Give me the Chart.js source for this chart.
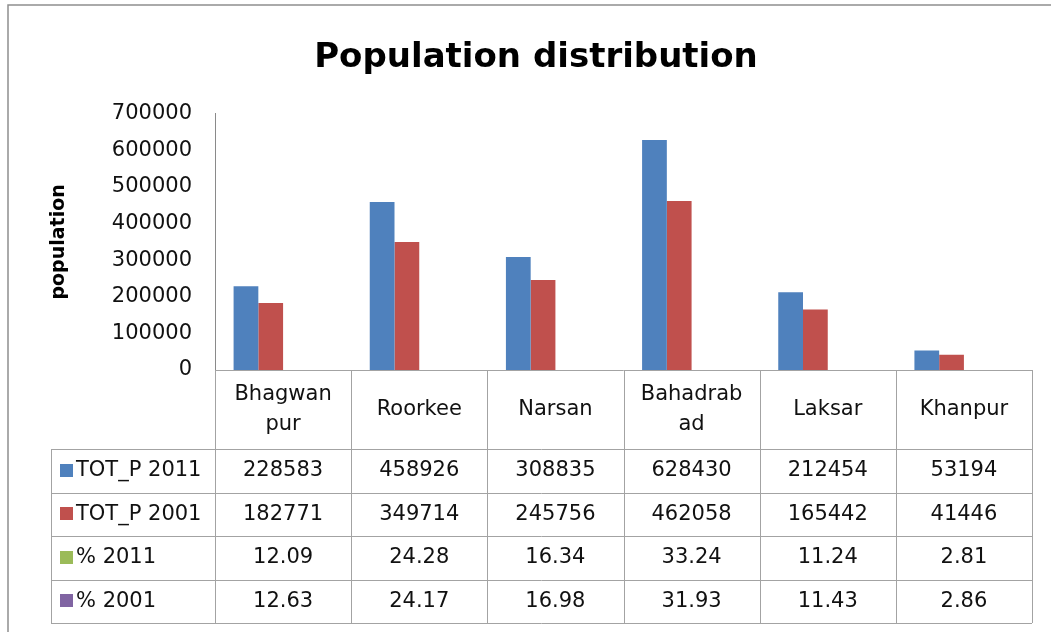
<!DOCTYPE html>
<html>
<head>
<meta charset="utf-8">
<script src="https://cdn.jsdelivr.net/npm/chart.js@4.4.1/dist/chart.umd.min.js"></script>
<style>
body { margin: 0; background: #fff; }
canvas { display: block; }
</style>
</head>
<body>
<canvas id="chart" width="1051" height="632"></canvas>
<script>
// header labels wrap like the original table cells
const categories = [['Bhagwan', 'pur'], ['Roorkee'], ['Narsan'], ['Bahadrab', 'ad'], ['Laksar'], ['Khanpur']];
const seriesNames = ['TOT_P 2011', 'TOT_P 2001', '% 2011', '% 2001'];
const tot2011 = [228583, 458926, 308835, 628430, 212454, 53194];
const tot2001 = [182771, 349714, 245756, 462058, 165442, 41446];
const pct2011 = [12.09, 24.28, 16.34, 33.24, 11.24, 2.81];
const pct2001 = [12.63, 24.17, 16.98, 31.93, 11.43, 2.86];
const yTicks = [0, 100000, 200000, 300000, 400000, 500000, 600000, 700000];
const colors = ['#4f81bd', '#c0504d', '#9bbb59', '#8064a2'];

const FONT = '"DejaVu Sans", sans-serif';
const series = [tot2011, tot2001, pct2011, pct2001];

function cellText(si, v) {
  return si < 2 ? String(v) : v.toFixed(2);
}

const dataTable = {
  id: 'dataTable',
  afterDraw(chart) {
    const { ctx, chartArea: a, scales: { x } } = chart;
    const n = categories.length;
    const colW = x.width / n;
    const top = a.bottom;
    const headBottom = top + 79;
    const rowH = 43.5;
    const legLeft = 51;
    const bottom = headBottom + rowH * series.length;
    const px = v => Math.round(v) + 0.5;

    ctx.save();
    // outer chart border (only top and left show in the crop)
    ctx.strokeStyle = '#8f8f8f';
    ctx.lineWidth = 1.5;
    ctx.beginPath();
    ctx.moveTo(8, chart.height);
    ctx.lineTo(8, 5);
    ctx.lineTo(chart.width, 5);
    ctx.stroke();

    // table lines
    ctx.strokeStyle = '#a3a3a3';
    ctx.lineWidth = 1;
    ctx.beginPath();
    ctx.moveTo(a.left, px(top));
    ctx.lineTo(a.right, px(top));
    for (let r = 0; r <= series.length; r++) {
      const y = px(headBottom + r * rowH);
      ctx.moveTo(legLeft, y);
      ctx.lineTo(a.right, y);
    }
    for (let i = 0; i <= n; i++) {
      const xx = px(i < n ? x.getPixelForValue(i) - colW / 2 : a.right);
      ctx.moveTo(xx, top);
      ctx.lineTo(xx, bottom);
    }
    ctx.moveTo(px(legLeft), headBottom);
    ctx.lineTo(px(legLeft), bottom);
    ctx.stroke();

    // header labels
    ctx.fillStyle = '#111';
    ctx.font = '21px ' + FONT;
    ctx.textAlign = 'center';
    ctx.textBaseline = 'middle';
    const headMid = (top + headBottom) / 2;
    categories.forEach((lines, i) => {
      const cx = x.getPixelForValue(i);
      lines.forEach((t, j) => {
        ctx.fillText(t, cx, headMid + (j - (lines.length - 1) / 2) * 30);
      });
    });

    // data rows
    series.forEach((vals, si) => {
      const cy = headBottom + rowH * si + rowH / 2;
      ctx.fillStyle = colors[si];
      ctx.fillRect(60, Math.round(cy - 7), 13, 13);
      ctx.fillStyle = '#111';
      ctx.textAlign = 'left';
      ctx.fillText(seriesNames[si], 76, cy);
      ctx.textAlign = 'center';
      vals.forEach((v, i) => {
        ctx.fillText(cellText(si, v), x.getPixelForValue(i), cy);
      });
    });
    ctx.restore();
  }
};

new Chart(document.getElementById('chart'), {
  type: 'bar',
  data: {
    labels: categories.map(c => c.join('')),
    datasets: series.map((vals, i) => ({
      label: seriesNames[i],
      data: vals,
      backgroundColor: colors[i],
      borderWidth: 0,
      categoryPercentage: 0.727,
      barPercentage: 1
    }))
  },
  options: {
    responsive: false,
    animation: false,
    layout: { padding: { top: 0, left: 40, right: 19, bottom: 262 } },
    plugins: {
      legend: { display: false },
      tooltip: { enabled: false },
      title: {
        display: true,
        text: 'Population distribution',
        color: '#000',
        font: { family: FONT, size: 34, weight: 'bold' },
        padding: { top: 38, bottom: 35 }
      }
    },
    scales: {
      x: { display: false },
      y: {
        min: 0,
        max: 700000,
        afterBuildTicks: s => { s.ticks = yTicks.map(v => ({ value: v })); },
        afterFit: s => { s.width = 175; },
        grid: { display: false, drawTicks: false },
        border: { display: true, color: '#8a8a8a', width: 1 },
        ticks: {
          color: '#111',
          padding: 23,
          font: { family: FONT, size: 21 },
          callback: v => String(v)
        },
        title: {
          display: true,
          text: 'population',
          color: '#000',
          font: { family: FONT, size: 19, weight: 'bold' },
          padding: { top: 8, bottom: 0 }
        }
      }
    }
  },
  plugins: [dataTable]
});
</script>
</body>
</html>
